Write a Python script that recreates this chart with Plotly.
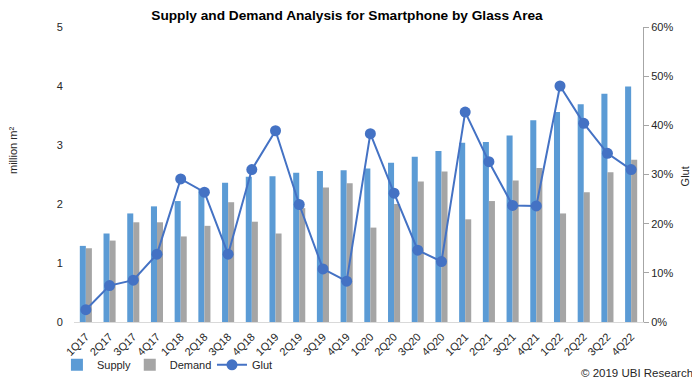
import plotly.graph_objects as go

quarters = ["1Q17","2Q17","3Q17","4Q17","1Q18","2Q18","3Q18","4Q18","1Q19","2Q19","3Q19","4Q19",
            "1Q20","2Q20","3Q20","4Q20","1Q21","2Q21","3Q21","4Q21","1Q22","2Q22","3Q22","4Q22"]
supply = [1.29,1.50,1.84,1.96,2.05,2.24,2.36,2.46,2.47,2.53,2.56,2.57,
          2.60,2.70,2.80,2.90,3.04,3.05,3.16,3.42,3.56,3.69,3.87,3.99]
demand = [1.25,1.38,1.69,1.69,1.45,1.63,2.03,1.70,1.50,1.93,2.28,2.35,
          1.60,2.00,2.38,2.55,1.74,2.05,2.40,2.61,1.84,2.20,2.54,2.75]
glut = [2.5,7.4,8.5,13.8,29.1,26.4,13.8,31.0,38.9,23.9,10.8,8.3,
        38.3,26.2,14.6,12.3,42.7,32.6,23.7,23.6,48.0,40.4,34.3,31.0]
glut_frac = [g/100 for g in glut]

left_ticks = [0,1,2,3,4,5]
right_ticks = [0,0.1,0.2,0.3,0.4,0.5,0.6]

FONT = "Liberation Sans, Arial, sans-serif"
TXT = "#262626"

# page body has an 8px margin, so the figure is drawn 8px smaller and offset
W, H = 692, 374

fig = go.Figure()
fig.add_trace(go.Bar(x=quarters, y=supply, name="Supply", marker_color="#5B9BD5",
                     marker_line_width=0, legend="legend"))
fig.add_trace(go.Bar(x=quarters, y=demand, name="Demand", marker_color="#A5A5A5",
                     marker_line_width=0, legend="legend2"))
fig.add_trace(go.Scatter(x=quarters, y=glut_frac, name="Glut", yaxis="y2", mode="lines+markers",
                         line=dict(color="#4472C4", width=2),
                         marker=dict(color="#4472C4", size=11), legend="legend3"))

leg_common = dict(orientation="h", xanchor="left", y=-0.145, yanchor="middle",
                  font=dict(size=11, color=TXT), bgcolor="rgba(0,0,0,0)")

fig.update_layout(
    width=W, height=H,
    margin=dict(l=66, r=57, t=19, b=60, autoexpand=False),
    paper_bgcolor="white", plot_bgcolor="white",
    font=dict(family=FONT, color=TXT, size=11),
    showlegend=True,
    barmode="group", bargap=0.49, bargroupgap=0,
    title=dict(text="<b>Supply and Demand Analysis for Smartphone by Glass Area</b>",
               x=339/W, xanchor="center", y=1-7/H, yanchor="middle",
               font=dict(size=13.7, color="#000000", family=FONT)),
    xaxis=dict(range=[-0.5, len(quarters)-0.5], tickangle=-45, tickfont=dict(size=11, color=TXT),
               ticklabelstandoff=3,
               showline=True, linecolor="#D9D9D9", linewidth=1, ticks="", showgrid=False),
    yaxis=dict(range=[0,5], tickvals=left_ticks, showgrid=False, zeroline=False,
               showline=False, ticks="outside", ticklen=8, tickcolor="rgba(0,0,0,0)",
               tickfont=dict(size=11, color=TXT)),
    yaxis2=dict(range=[0,0.6], tickvals=right_ticks, tickformat=".0%", overlaying="y",
                side="right", showgrid=False, zeroline=False, showline=True,
                linecolor="#A6A6A6", linewidth=1, ticks="outside", ticklen=5,
                tickcolor="#A6A6A6", tickfont=dict(size=11, color=TXT)),
    legend=dict(x=-0.030, visible=True, **leg_common),
    legend2=dict(x=0.098, **leg_common),
    legend3=dict(x=0.2425, **leg_common),
    annotations=[
        dict(text="million m²", textangle=-90, x=-0.106, xanchor="center", y=0.582,
             yanchor="middle", xref="paper", yref="paper",
             showarrow=False, font=dict(size=11, color=TXT)),
        dict(text="Glut", textangle=-90, x=1.074, xanchor="center", y=0.494, yanchor="middle",
             xref="paper", yref="paper",
             showarrow=False, font=dict(size=11, color=TXT)),
        dict(text="© 2019 UBI Research", x=1.091, xanchor="right", y=-0.174, yanchor="middle",
             xref="paper", yref="paper", showarrow=False, font=dict(size=11.5, color=TXT)),
    ],
)

fig.write_html("out.html")
